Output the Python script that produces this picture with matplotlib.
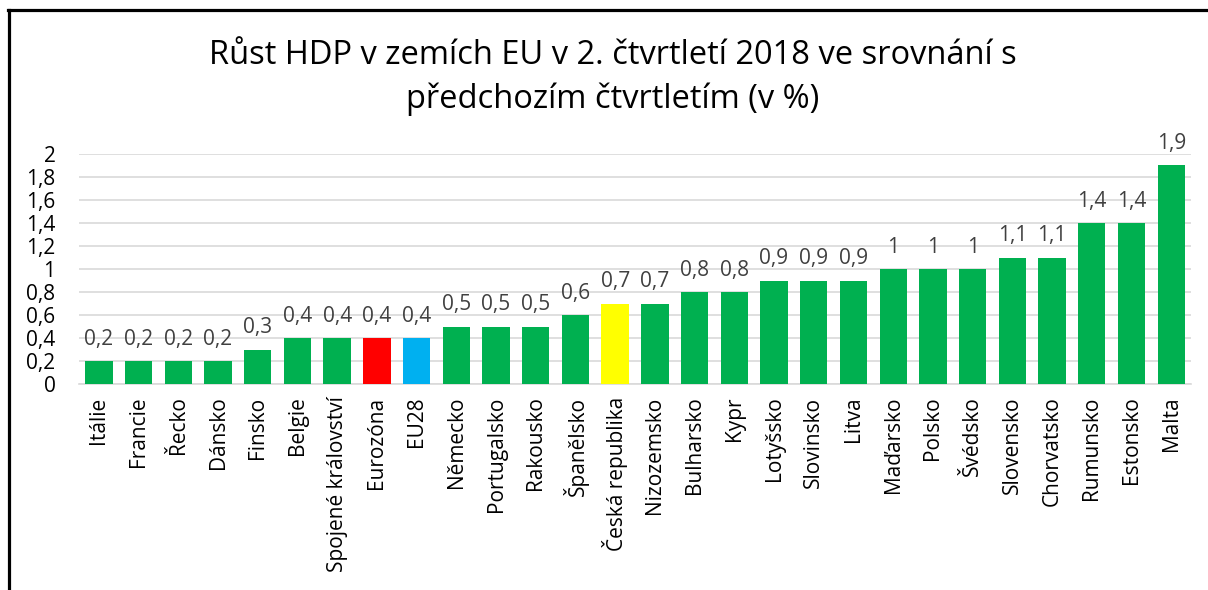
import numpy as np
import matplotlib
matplotlib.use("Agg")
from matplotlib import pyplot as plt
from matplotlib.lines import Line2D

plt.rcParams['font.family'] = ['Open Sans', 'DejaVu Sans']

countries = ['Itálie', 'Francie', 'Řecko', 'Dánsko', 'Finsko', 'Belgie',
             'Spojené království', 'Eurozóna', 'EU28', 'Německo', 'Portugalsko',
             'Rakousko', 'Španělsko', 'Česká republika', 'Nizozemsko', 'Bulharsko',
             'Kypr', 'Lotyšsko', 'Slovinsko', 'Litva', 'Maďarsko', 'Polsko',
             'Švédsko', 'Slovensko', 'Chorvatsko', 'Rumunsko', 'Estonsko', 'Malta']
growth = [0.2, 0.2, 0.2, 0.2, 0.3, 0.4, 0.4, 0.4, 0.4, 0.5, 0.5, 0.5, 0.6, 0.7,
          0.7, 0.8, 0.8, 0.9, 0.9, 0.9, 1.0, 1.0, 1.0, 1.1, 1.1, 1.4, 1.4, 1.9]
highlight = {'Eurozóna': '#ff0000', 'EU28': '#00b0f0', 'Česká republika': '#ffff00'}
yticks = [0, 0.2, 0.4, 0.6, 0.8, 1.0, 1.2, 1.4, 1.6, 1.8, 2.0]


def cz(v):
    # czech decimal comma, drop trailing ,0
    s = ('%.1f' % v).replace('.', ',')
    if s.endswith(',0'):
        s = s[:-2]
    return s


fig = plt.figure(figsize=(12.08, 5.90), dpi=100)
ax = fig.add_axes([0.0654, 0.349, 0.9206, 0.390])

colors = [highlight.get(c, '#00b050') for c in countries]
x = np.arange(len(countries))
bars = ax.bar(x, growth, width=0.69, color=colors, zorder=3)

for xi, v in zip(x, growth):
    ax.annotate(cz(v), (xi, v), xytext=(0, 8), textcoords='offset points',
                ha='center', va='bottom', fontsize=15, color='#404040')

ax.set_xlim(-0.5, len(countries) - 0.5)
ax.set_ylim(0, 2)
ax.set_yticks(yticks)
ax.set_yticklabels([cz(t) for t in yticks], fontsize=15)
ax.set_xticks(x)
ax.set_xticklabels(countries, rotation=90, fontsize=15)
ax.tick_params(axis='both', length=0)
ax.tick_params(axis='y', pad=17)
ax.tick_params(axis='x', pad=9)
ax.grid(axis='y', color='#d9d9d9', linewidth=1.2, zorder=0)
for s in ['top', 'right', 'left']:
    ax.spines[s].set_visible(False)
ax.spines['bottom'].set_color('#d9d9d9')
ax.spines['bottom'].set_linewidth(1.2)

fig.text(0.507, 0.869, 'Růst HDP v zemích EU v 2. čtvrtletí 2018 ve srovnání s\npředchozím čtvrtletím (v %)',
         ha='center', va='center', fontsize=23.5, linespacing=1.42)

# chart frame (top and left edge)
fig.add_artist(Line2D([8 / 1208, 1.0], [1 - 10 / 590, 1 - 10 / 590], color='black',
                      linewidth=2.3, transform=fig.transFigure))
fig.add_artist(Line2D([9 / 1208, 9 / 1208], [0, 1 - 10 / 590], color='black',
                      linewidth=2.3, transform=fig.transFigure))

fig.savefig('out.png', dpi=100)
